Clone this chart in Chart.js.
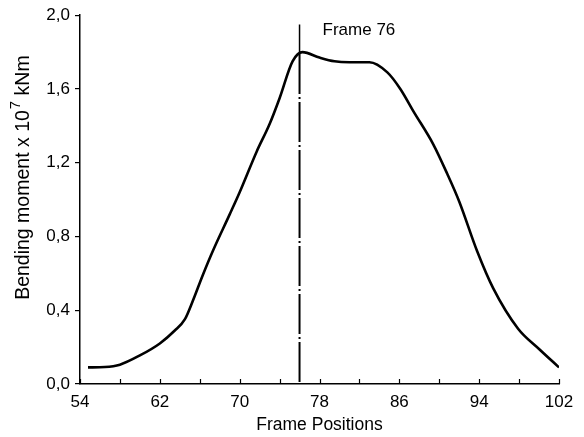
<!DOCTYPE html>
<html>
<head>
<meta charset="utf-8">
<script src="https://cdn.jsdelivr.net/npm/chart.js@4.4.1/dist/chart.umd.min.js"></script>
<style>
  html, body { margin: 0; padding: 0; background: #fff; }
  #wrap { width: 584px; height: 437px; }
</style>
</head>
<body>
<div id="wrap"><canvas id="bmChart"></canvas></div>
<script>
// Bending moment along the hull (x 10^7 kNm)
const framePositions = [54.8, 56.5, 58, 60, 62, 63.5, 64.5, 65.3, 66.3, 67.3, 69, 70, 71.7, 73, 74, 75.3, 76.3, 78, 79.5, 81, 83, 84.8, 86.1, 87.4, 89.4, 90.8, 92, 93.8, 95.4, 97.9, 100, 102];
const bendingMoment = [0.09, 0.092, 0.105, 0.155, 0.22, 0.29, 0.35, 0.45, 0.59, 0.72, 0.92, 1.04, 1.26, 1.41, 1.55, 1.75, 1.80, 1.77, 1.75, 1.745, 1.745, 1.69, 1.60, 1.48, 1.30, 1.14, 0.99, 0.72, 0.52, 0.30, 0.19, 0.09];

// marker at frame 76
const markerFrame = 76;
const markerLabel = 'Frame 76';
const markerTop = 1.95;
const markerJoin = 1.79;

const xMin = 54, xMax = 102, xStep = 4, xLabelStep = 8;
const yMin = 0, yMax = 2, yStep = 0.4;

const FONT = '"Liberation Sans", Arial, sans-serif';

const curve = framePositions.map((f, i) => ({ x: f, y: bendingMoment[i] }));

const axisExtras = {
    id: 'axisExtras',
    afterDraw(chart) {
        const ctx = chart.ctx;
        const xs = chart.scales.x;
        const ys = chart.scales.y;
        ctx.save();
        // inward ticks on the frame axis
        ctx.strokeStyle = '#000';
        ctx.lineWidth = 1.2;
        xs.ticks.forEach(t => {
            const px = Math.round(xs.getPixelForValue(t.value)) + 0.5;
            ctx.beginPath();
            ctx.moveTo(px, ys.bottom);
            ctx.lineTo(px, ys.bottom - 5);
            ctx.stroke();
        });
        // marker label
        ctx.fillStyle = '#000';
        ctx.font = '17px ' + FONT;
        ctx.textBaseline = 'middle';
        ctx.textAlign = 'left';
        ctx.fillText(markerLabel, xs.getPixelForValue(markerFrame) + 23, ys.getPixelForValue(1.92));
        // y title with superscript
        const main = 'Bending moment x 10';
        const sup = '7';
        const tail = ' kNm';
        const big = '19.5px ' + FONT;
        const small = '15px ' + FONT;
        ctx.font = big;
        const w1 = ctx.measureText(main).width;
        const w3 = ctx.measureText(tail).width;
        ctx.font = small;
        const w2 = ctx.measureText(sup).width + 1;
        const total = w1 + w2 + w3;
        ctx.translate(22, (ys.top + ys.bottom) / 2 - 22);
        ctx.rotate(-Math.PI / 2);
        ctx.textAlign = 'left';
        ctx.textBaseline = 'alphabetic';
        const x0 = -total / 2;
        ctx.font = big;
        ctx.fillText(main, x0, 7);
        ctx.font = small;
        ctx.fillText(sup, x0 + w1 + 1, -2);
        ctx.font = big;
        ctx.fillText(tail, x0 + w1 + w2, 7);
        ctx.restore();
    }
};

new Chart(document.getElementById('bmChart'), {
    type: 'line',
    data: {
        datasets: [{
            data: curve,
            borderColor: '#000',
            borderWidth: 2.6,
            pointRadius: 0,
            cubicInterpolationMode: 'monotone',
            fill: false
        }, {
            data: [{ x: markerFrame, y: markerTop }, { x: markerFrame, y: markerJoin }],
            borderColor: '#000',
            borderWidth: 1.5,
            pointRadius: 0,
            fill: false
        }, {
            data: [{ x: markerFrame, y: markerJoin }, { x: markerFrame, y: yMin }],
            borderColor: '#000',
            borderWidth: 2,
            borderDash: [40, 3, 2, 3],
            pointRadius: 0,
            fill: false
        }]
    },
    options: {
        responsive: true,
        maintainAspectRatio: false,
        animation: false,
        events: [],
        layout: {
            padding: { left: 0, right: 25, top: 14, bottom: 0 }
        },
        plugins: {
            legend: { display: false },
            tooltip: { enabled: false }
        },
        scales: {
            x: {
                type: 'linear',
                min: xMin,
                max: xMax,
                afterFit: s => { s.height = 53; },
                border: { color: '#000', width: 1.5 },
                grid: { drawOnChartArea: false, drawTicks: false },
                ticks: {
                    stepSize: xStep,
                    autoSkip: false,
                    maxRotation: 0,
                    padding: 8,
                    color: '#000',
                    font: { family: FONT, size: 17 },
                    callback: (v) => ((v - xMin) % xLabelStep === 0 ? String(v) : '')
                },
                title: {
                    display: true,
                    text: 'Frame Positions',
                    color: '#000',
                    font: { family: FONT, size: 17.5 },
                    padding: { top: 0, bottom: 1 }
                }
            },
            y: {
                min: yMin,
                max: yMax,
                afterFit: s => { s.width = 80; },
                border: { color: '#000', width: 1.5 },
                grid: { drawOnChartArea: false, drawTicks: true, tickLength: 5, color: '#000', lineWidth: 1.2 },
                ticks: {
                    stepSize: yStep,
                    padding: 5,
                    color: '#000',
                    font: { family: FONT, size: 17 },
                    callback: (v) => v.toFixed(1).replace('.', ',')
                }
            }
        }
    },
    plugins: [axisExtras]
});
</script>
</body>
</html>
